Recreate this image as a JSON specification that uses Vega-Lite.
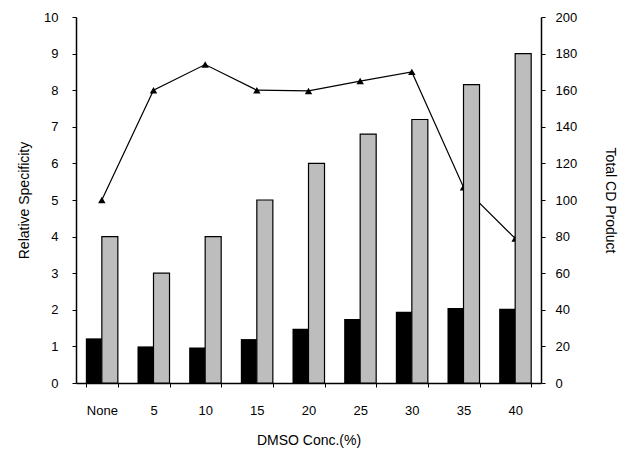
{
  "$schema": "https://vega.github.io/schema/vega-lite/v6.json",
  "width": 465,
  "height": 366,
  "autosize": {"type": "none"},
  "padding": {"left": 76, "top": 17, "right": 87, "bottom": 70},
  "background": "white",
  "config": {
    "view": {"stroke": null},
    "font": "Liberation Sans",
    "axis": {"labelFont": "Liberation Sans", "titleFont": "Liberation Sans", "labelFontSize": 13, "titleFontSize": 14, "titleFontWeight": "normal", "labelColor": "#000", "titleColor": "#000", "domainColor": "#000", "tickColor": "#000", "grid": false, "ticks": true, "labelOverlap": false}
  },
  "data": {
    "values": [
      {"conc": "None", "black": 1.22, "cd": 80, "spec": 5.0},
      {"conc": "5", "black": 1.0, "cd": 60, "spec": 8.0},
      {"conc": "10", "black": 0.97, "cd": 80, "spec": 8.7},
      {"conc": "15", "black": 1.2, "cd": 100, "spec": 8.0},
      {"conc": "20", "black": 1.48, "cd": 120, "spec": 7.98},
      {"conc": "25", "black": 1.75, "cd": 136, "spec": 8.25},
      {"conc": "30", "black": 1.95, "cd": 144, "spec": 8.5},
      {"conc": "35", "black": 2.05, "cd": 163, "spec": 5.35},
      {"conc": "40", "black": 2.03, "cd": 180, "spec": 3.95}
    ]
  },
  "encoding": {
    "x": {
      "field": "conc", "type": "nominal", "sort": null,
      "scale": {"paddingInner": 0.38, "paddingOuter": 0.19},
      "axis": {"title": "DMSO Conc.(%)", "labelAngle": 0, "labelPadding": 17, "titlePadding": 16, "tickBand": "extent", "tickSize": 4, "domainWidth": 1.5}
    }
  },
  "layer": [
    {
      "encoding": {
        "y": {"type": "quantitative", "scale": {"domain": [0, 10]},
          "axis": {"title": "Relative Specificity", "values": [0,1,2,3,4,5,6,7,8,9,10], "tickSize": 4, "labelPadding": 14, "titlePadding": 12, "domainWidth": 1.5}}
      },
      "layer": [
        {
          "mark": {"type": "bar", "color": "#000"},
          "encoding": {
            "xOffset": {"datum": "a", "scale": {"domain": ["a", "b"], "paddingInner": 0}},
            "y": {"field": "black", "type": "quantitative", "title": "Relative Specificity"}
          }
        },
        {
          "mark": {"type": "line", "color": "#000", "strokeWidth": 1.2},
          "encoding": {"y": {"field": "spec", "type": "quantitative", "title": "Relative Specificity"}}
        },
        {
          "mark": {"type": "point", "shape": "triangle-up", "filled": true, "color": "#000", "size": 55, "opacity": 1},
          "encoding": {"y": {"field": "spec", "type": "quantitative", "title": "Relative Specificity"}}
        }
      ]
    },
    {
      "mark": {"type": "bar", "color": "#bdbdbd", "stroke": "#000", "strokeWidth": 1.2},
      "encoding": {
        "xOffset": {"datum": "b"},
        "y": {"field": "cd", "type": "quantitative", "scale": {"domain": [0, 200]},
          "axis": {"orient": "right", "title": "Total CD Product", "values": [0,20,40,60,80,100,120,140,160,180,200], "tickSize": 4, "labelPadding": 10, "titlePadding": 26, "domainWidth": 1.5}}
      }
    }
  ],
  "resolve": {"scale": {"y": "independent"}}
}
